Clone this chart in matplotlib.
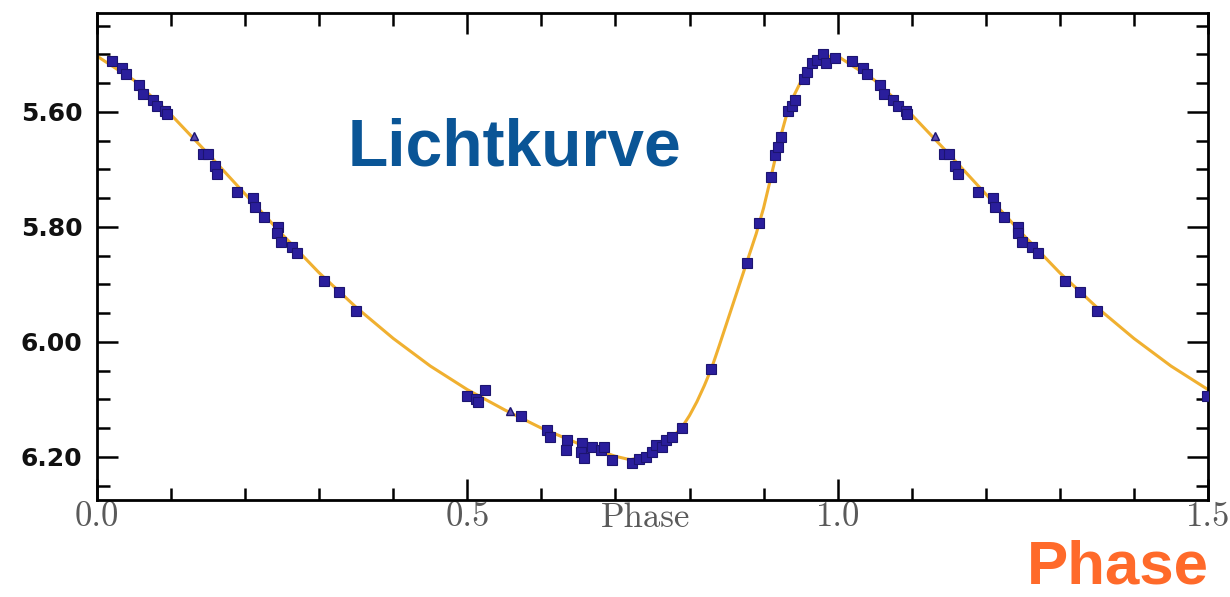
import numpy as np
import matplotlib
matplotlib.use("Agg")
import matplotlib.pyplot as plt
from matplotlib.ticker import MultipleLocator, FixedLocator

# ---- data (phase, magnitude), one cycle 0..1 ----
sq_phase = [0.020, 0.034, 0.039, 0.057, 0.062, 0.075, 0.081, 0.092, 0.094,
            0.143, 0.150, 0.159, 0.162, 0.189, 0.210, 0.213, 0.225, 0.244,
            0.243, 0.249, 0.263, 0.270, 0.307, 0.327, 0.350,
            0.499, 0.512, 0.515, 0.524, 0.573, 0.608, 0.611, 0.635, 0.633,
            0.655, 0.654, 0.658, 0.668, 0.681, 0.685, 0.695, 0.722, 0.732,
            0.741, 0.749, 0.755, 0.763, 0.768, 0.776, 0.790, 0.829, 0.877,
            0.894, 0.910, 0.916, 0.919, 0.923, 0.933, 0.938, 0.943, 0.954,
            0.958, 0.966, 0.972, 0.980, 0.984, 0.997]
sq_mag = [5.511, 5.524, 5.534, 5.553, 5.569, 5.579, 5.590, 5.598, 5.603,
          5.673, 5.673, 5.694, 5.708, 5.739, 5.750, 5.765, 5.783, 5.800,
          5.810, 5.826, 5.835, 5.845, 5.894, 5.913, 5.946,
          6.094, 6.099, 6.104, 6.083, 6.129, 6.153, 6.165, 6.170, 6.188,
          6.176, 6.191, 6.202, 6.183, 6.188, 6.183, 6.205, 6.210, 6.203,
          6.200, 6.191, 6.179, 6.183, 6.170, 6.165, 6.150, 6.047, 5.863,
          5.793, 5.713, 5.675, 5.661, 5.643, 5.598, 5.590, 5.579, 5.543,
          5.530, 5.515, 5.510, 5.499, 5.515, 5.506]
tri_phase = [0.131, 0.557]
tri_mag = [5.642, 6.120]

# fitted light curve, one cycle 0..1
curve_phase = [0.00, 0.05, 0.10, 0.15, 0.20, 0.25, 0.30, 0.35, 0.40, 0.45,
               0.50, 0.55, 0.60, 0.65, 0.70, 0.72, 0.74, 0.76, 0.78, 0.79,
               0.80, 0.81, 0.82, 0.83, 0.84, 0.85, 0.86, 0.87, 0.88, 0.89,
               0.90, 0.91, 0.92, 0.93, 0.94, 0.95, 0.96, 0.97, 0.98, 0.99]
curve_mag = [5.503, 5.545, 5.605, 5.673, 5.743, 5.813, 5.880, 5.940, 5.994, 6.042,
             6.083, 6.118, 6.150, 6.177, 6.199, 6.205, 6.199, 6.184, 6.162, 6.148,
             6.128, 6.104, 6.076, 6.045, 6.007, 5.968, 5.929, 5.890, 5.851, 5.812,
             5.767, 5.713, 5.657, 5.610, 5.574, 5.548, 5.529, 5.513, 5.506, 5.503]

x_ticklabels = ["0.0", "0.5", "1.0", "1.5"]
y_ticklabels = ["5.60", "5.80", "6.00", "6.20"]


def extend(ph, mg, limit=1.5):
    ph = np.asarray(ph, float)
    mg = np.asarray(mg, float)
    sel = ph + 1 <= limit + 1e-9
    return np.concatenate([ph, ph[sel] + 1]), np.concatenate([mg, mg[sel]])


cp, cm = extend(curve_phase + [1.0], curve_mag + [curve_mag[0]])
order = np.argsort(cp)
cp, cm = cp[order], cm[order]
sp, sm = extend(sq_phase, sq_mag)
tp, tm = extend(tri_phase, tri_mag)

fig = plt.figure(figsize=(12.3, 5.97), dpi=100)
ax = fig.add_axes([97 / 1230, 1 - 500 / 597, (1208 - 97) / 1230, (500 - 13) / 597])

ax.plot(cp, cm, color="#F0B030", lw=2.2, zorder=2, solid_joinstyle="round")
ax.plot(sp, sm, ls="none", marker="s", ms=7.3, mfc="#2A1E9C", mec="#1C1470",
        mew=0.8, zorder=3)
ax.plot(tp, tm, ls="none", marker="^", ms=6, mfc="#5A4AB0", mec="#1C1470",
        mew=1.0, zorder=3)

ax.set_xlim(0, 1.5)
ax.set_ylim(6.275, 5.428)

ax.xaxis.set_major_locator(FixedLocator([0.0, 0.5, 1.0, 1.5]))
ax.xaxis.set_minor_locator(MultipleLocator(0.1))
ax.yaxis.set_major_locator(FixedLocator([5.6, 5.8, 6.0, 6.2]))
ax.yaxis.set_minor_locator(MultipleLocator(0.05))
ax.set_xticklabels(x_ticklabels, fontfamily="cmr10", fontsize=25, color="#5a5a5a")
ax.set_yticklabels(y_ticklabels, fontfamily="DejaVu Sans", fontweight="bold",
                   fontsize=18, color="#111111")

ax.tick_params(which="both", direction="in", top=True, right=True, color="black")
ax.tick_params(which="major", length=15, width=1.8)
ax.tick_params(which="minor", length=9, width=1.8)
ax.tick_params(axis="x", which="major", pad=1)
ax.tick_params(axis="y", which="major", pad=10.5)
for s in ax.spines.values():
    s.set_linewidth(2.0)
    s.set_color("black")

ax.set_xlabel("Phase", fontfamily="cmr10", fontsize=25, color="#5a5a5a")
ax.xaxis.set_label_coords(0.494, -0.005)

fig.text(348 / 1230, 1 - 165 / 597, "Lichtkurve", fontfamily="Liberation Sans",
         fontweight="bold", fontsize=47.5, color="#0A5596", va="baseline", ha="left")
fig.text(1027 / 1230, 1 / 597, "Phase", fontfamily="Liberation Sans",
         fontweight="bold", fontsize=44.5, color="#FF6A2A", va="bottom", ha="left")

fig.savefig("out.png", dpi=100, facecolor="white")
